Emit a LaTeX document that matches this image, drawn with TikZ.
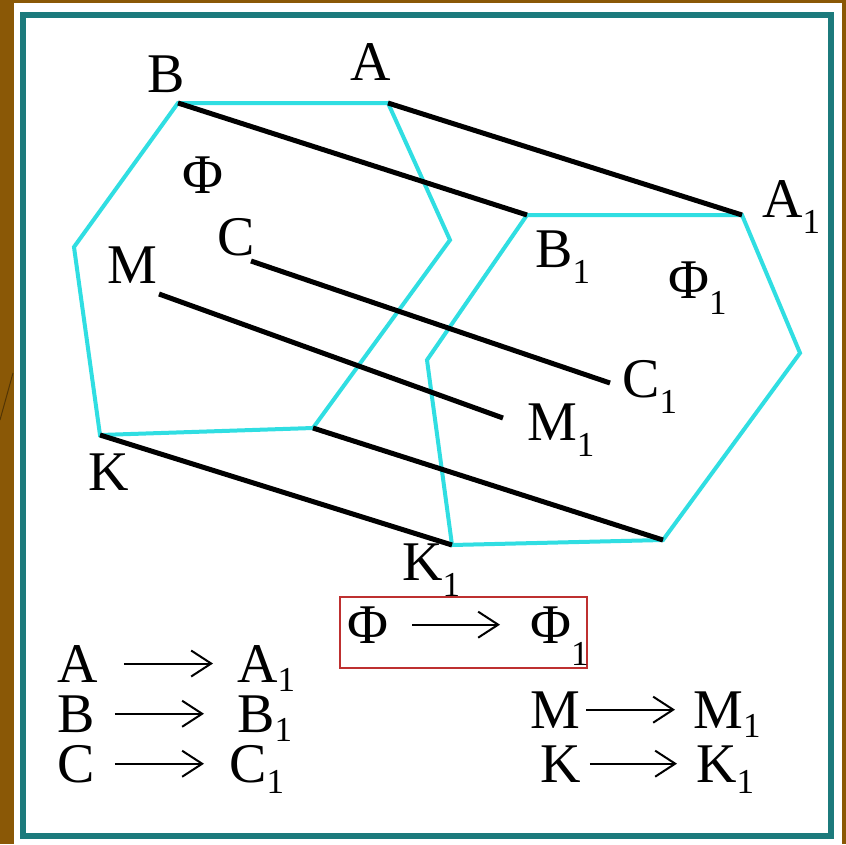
\documentclass[tikz,border=0pt]{standalone}
\usepackage{fontspec}
\setmainfont{Liberation Serif}
\usetikzlibrary{arrows.meta}
\definecolor{slidebrown}{RGB}{138,88,6}
\definecolor{frameteal}{RGB}{28,122,124}
\definecolor{figcyan}{RGB}{48,222,226}
\definecolor{boxred}{RGB}{190,48,48}
\newcommand{\lowone}[1][0.3em]{\raisebox{-#1}{\fontsize{35}{35}\selectfont 1}}

\begin{document}
\begin{tikzpicture}[x=1pt, y=-1pt,
    lbl/.style={anchor=base west, inner sep=0pt, font=\fontsize{56}{60}\selectfont},
    fig/.style={draw=figcyan, line width=4pt, line join=miter},
    seg/.style={draw=black, line width=5pt},
    mapto/.style={-{Straight Barb[length=20pt,width=26pt]}, line width=2pt},
    redbox/.style={draw=boxred, line width=2pt, minimum width=247pt, minimum height=71pt}
  ]
  \useasboundingbox (0,0) rectangle (846,844);
  % slide background and frame
  \fill[slidebrown] (0,0) rectangle (846,844);
  \fill[white] (14,3) rectangle (842,844);
  \draw[slidebrown!60!black, line width=1pt] (0,420) -- (13,373);
  \draw[frameteal, line width=6pt] (23,15) rectangle (831,836);

  % vertices of the figure and its image
  \coordinate (B) at (178,103);  \coordinate (A) at (388,103);
  \coordinate (P) at (450,240);  \coordinate (Q) at (313,428);
  \coordinate (K) at (100,435);  \coordinate (R) at (74,247);
  \coordinate (B1) at (527,215); \coordinate (A1) at (742,215);
  \coordinate (P1) at (800,353); \coordinate (Q1) at (663,540);
  \coordinate (K1) at (452,545); \coordinate (R1) at (427,360);
  \coordinate (C) at (251,261);  \coordinate (C1) at (610,383);
  \coordinate (M) at (159,294);  \coordinate (M1) at (503,418);

  \draw[fig] (B) -- (A) -- (P) -- (Q) -- (K) -- (R) -- cycle;
  \draw[fig] (B1) -- (A1) -- (P1) -- (Q1) -- (K1) -- (R1) -- cycle;

  \draw[seg] (B) -- (B1);
  \draw[seg] (A) -- (A1);
  \draw[seg] (C) -- (C1);
  \draw[seg] (M) -- (M1);
  \draw[seg] (K) -- (K1);
  \draw[seg] (Q) -- (Q1);

  % point labels
  \node[lbl] (tB) at (147,92) {B};
  \node[lbl] (tA) at (350,80) {A};
  \node[lbl] (tPhi) at (182,193) {Φ};
  \node[lbl] (tC) at (217,255) {C};
  \node[lbl] (tM) at (107,283) {M};
  \node[lbl] (tK) at (88,490) {K};
  \node[lbl] (tA1) at (762,217) {A\lowone};
  \node[lbl] (tB1) at (535,267) {B\lowone};
  \node[lbl] (tPhi1) at (668,298) {Φ\lowone};
  \node[lbl] (tC1) at (622,397) {C\lowone};
  \node[lbl] (tM1) at (527,440) {M\lowone};
  \node[lbl] (tK1) at (402,580) {K\lowone};

  % the mapping
  \node[redbox] (map) at (463.5,632.5) {};
  \node[lbl] (fPhi) at (347,643) {Φ};
  \node[lbl] (fPhi1) at (530,643) {Φ\lowone[0.4em]};
  \draw[mapto, shorten <=24pt, shorten >=30pt] (fPhi.east) -- (fPhi.east -| fPhi1.west);

  \node[lbl] (mA) at (57,682) {A};
  \node[lbl] (mA1) at (237,682) {A\lowone[0.17em]};
  \node[lbl] (mB) at (57,732) {B};
  \node[lbl] (mB1) at (237,732) {B\lowone[0.17em]};
  \node[lbl] (mC) at (57,782) {C};
  \node[lbl] (mC1) at (229,782) {C\lowone[0.2em]};
  \node[lbl] (mM) at (530,728) {M};
  \node[lbl] (mM1) at (693,728) {M\lowone[0.17em]};
  \node[lbl] (mK) at (540,782) {K};
  \node[lbl] (mK1) at (696,782) {K\lowone[0.2em]};

  \draw[mapto, shorten <=26pt, shorten >=24pt] (mA.east) -- (mA.east -| mA1.west);
  \draw[mapto, shorten <=20pt, shorten >=33pt] (mB.east) -- (mB.east -| mB1.west);
  \draw[mapto, shorten <=20pt, shorten >=25pt] (mC.east) -- (mC.east -| mC1.west);
  \draw[mapto, shorten <=6pt, shorten >=18pt] (mM.east) -- (mM.east -| mM1.west);
  \draw[mapto, shorten <=9pt, shorten >=19pt] (mK.east) -- (mK.east -| mK1.west);
\end{tikzpicture}
\end{document}
